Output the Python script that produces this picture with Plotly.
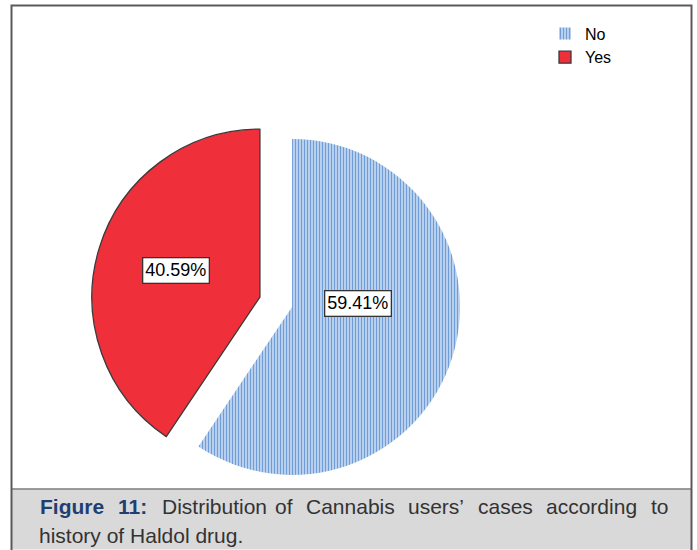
import plotly.graph_objects as go

# Haldol history among cannabis users
categories = ["No", "Yes"]
percentages = [59.41, 40.59]
slice_colors = ["#cfe0f4", "#ef2f3a"]

caption_bold = ["Figure", "11:"]
caption_line1 = ["Distribution", "of", "Cannabis", "users’", "cases", "according", "to"]
caption_line2 = "history of Haldol drug."

W, H = 697, 550


def px(x):
    return x / W


def py(y):
    return 1 - y / H


fig = go.Figure()

fig.add_trace(go.Pie(
    labels=categories,
    values=percentages,
    sort=False,
    direction="clockwise",
    rotation=0,
    pull=[0.1, 0.1],
    textinfo="none",
    hoverinfo="label+percent",
    domain=dict(x=[px(91.2), px(460.8)], y=[py(486.8), py(117.2)]),
    marker=dict(
        colors=slice_colors,
        line=dict(color=["rgba(0,0,0,0)", "#3a3a3a"], width=[0, 1.3]),
        pattern=dict(shape=["|", ""], fgcolor=["#6f9dd8", "#ef2f3a"],
                     bgcolor=["#d0e1f5", "#ef2f3a"], size=3, solidity=0.5,
                     fillmode="replace"),
    ),
    showlegend=True,
))

# frame, divider and caption panel
shapes = [
    dict(type="rect", xref="paper", yref="paper",
         x0=px(12), x1=px(691), y0=py(549.5), y1=py(489.5),
         fillcolor="#d9d9d9", line=dict(width=0), layer="below"),
    dict(type="line", xref="paper", yref="paper",
         x0=px(11.5), x1=px(691.5), y0=py(489), y1=py(489),
         line=dict(color="#7a7a7a", width=1.5)),
    dict(type="rect", xref="paper", yref="paper",
         x0=px(11.5), x1=px(691.5), y0=py(560), y1=py(5.5),
         line=dict(color="#5a5a5a", width=2), fillcolor="rgba(0,0,0,0)"),
]

annotations = []

# percentage boxes inside the slices
label_pos = {"No": (358, 303.5), "Yes": (176, 270.5)}
for cat, val in zip(categories, percentages):
    x, y = label_pos[cat]
    annotations.append(dict(
        x=px(x), y=py(y), xref="paper", yref="paper",
        text=f"{val:.2f}%", showarrow=False,
        font=dict(family="Liberation Sans, Arial, sans-serif", size=18, color="#000000"),
        bgcolor="#ffffff", bordercolor="#333333", borderwidth=1.3, borderpad=2,
        xanchor="center", yanchor="middle",
    ))

# caption; first line is justified, so each word is placed on its own
cap_font = "Liberation Sans, Arial, sans-serif"
line1_y = py(506.5)
for wx, word in zip([38, 115.8], caption_bold):
    annotations.append(dict(
        x=px(wx), y=line1_y, xref="paper", yref="paper", showarrow=False,
        text=f"<b>{word}</b>", xanchor="left", yanchor="middle",
        font=dict(family=cap_font, size=21, color="#1f3f73"),
    ))
word_x = [159.7, 272.5, 303.6, 405.9, 475.5, 544, 648.6]
for wx, word in zip(word_x, caption_line1):
    annotations.append(dict(
        x=px(wx), y=line1_y, xref="paper", yref="paper", showarrow=False,
        text=word, xanchor="left", yanchor="middle",
        font=dict(family=cap_font, size=21, color="#333333"),
    ))
annotations.append(dict(
    x=px(37), y=py(535), xref="paper", yref="paper", showarrow=False,
    text=caption_line2, xanchor="left", yanchor="middle",
    font=dict(family=cap_font, size=21, color="#333333"),
))

fig.update_layout(
    width=W, height=H,
    margin=dict(l=0, r=0, t=0, b=0),
    paper_bgcolor="#ffffff",
    plot_bgcolor="#ffffff",
    shapes=shapes,
    annotations=annotations,
    legend=dict(
        x=px(545), y=py(16.5), xanchor="left", yanchor="top",
        font=dict(family="Liberation Sans, Arial, sans-serif", size=16, color="#000000"),
        bgcolor="rgba(0,0,0,0)", traceorder="normal",
        itemclick=False,
    ),
)

fig.write_html("out.html")
